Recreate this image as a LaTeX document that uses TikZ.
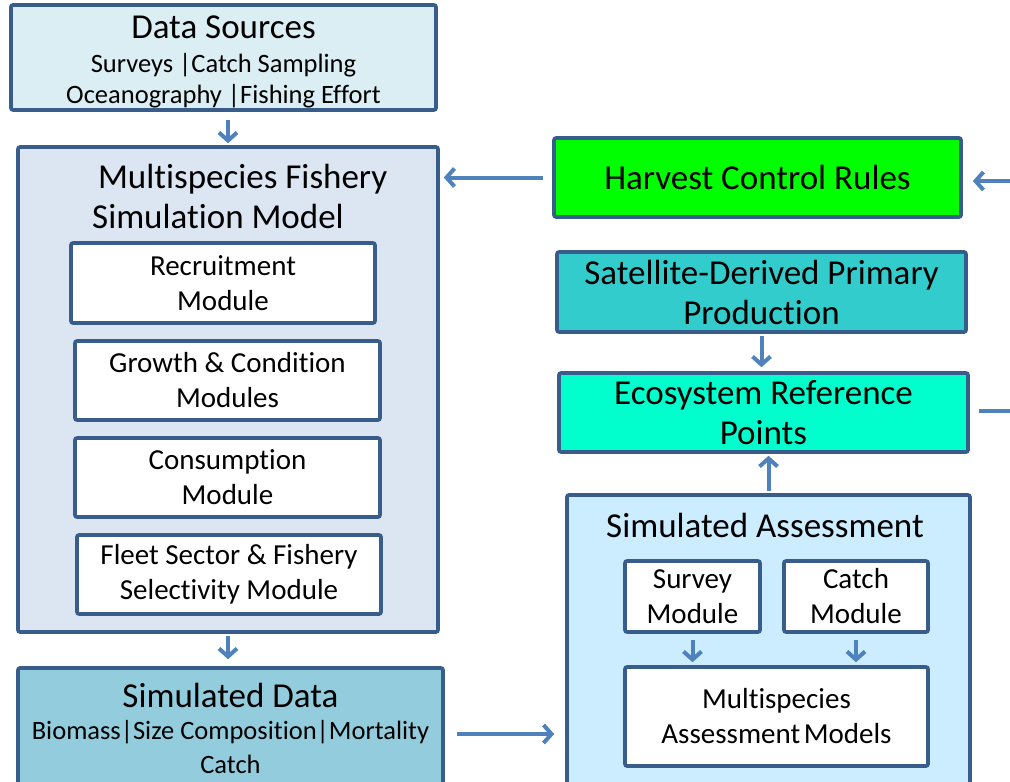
\documentclass[tikz,border=0pt]{standalone}
\usepackage{fontspec}
\setmainfont{Carlito}[Ligatures=NoCommon]
\usetikzlibrary{arrows.meta}

\definecolor{boxBorder}{HTML}{385D8A}
\definecolor{flowBlue}{HTML}{4F81BD}
\definecolor{sourceFill}{HTML}{DAEEF3}
\definecolor{modelFill}{HTML}{DCE6F2}
\definecolor{dataFill}{HTML}{93CDDD}
\definecolor{ruleFill}{HTML}{00FF00}
\definecolor{satFill}{HTML}{33CCCC}
\definecolor{refFill}{HTML}{00FFCC}
\definecolor{assessFill}{HTML}{CCECFF}

\begin{document}
\begin{tikzpicture}[%
    x=1pt, y=-1pt,
    box/.style={%
        draw=boxBorder,
        line width=3.6pt,
        rectangle,
        rounded corners=2pt,
        inner sep=0pt,
        align=center
    },
    module/.style={%
        box,
        fill=white,
        font=\fontsize{29}{35}\selectfont
    },
    banner/.style={%
        box,
        font=\fontsize{35}{40}\selectfont
    },
    title/.style={%
        font=\fontsize{35}{40}\selectfont,
        inner sep=0pt
    },
    subtitle/.style={%
        font=\fontsize{26.5}{30}\selectfont,
        inner sep=0pt
    },
    flow/.style={%
        draw=flowBlue,
        line width=4pt,
        -{Straight Barb[length=8pt,width=18pt]}
    }
]
\useasboundingbox (0,0) rectangle (1010,782);
\clip (0,0) rectangle (1010,782);

% Data sources
    \node[box, fill=sourceFill, minimum width=425, minimum height=105] (dataSources) at (223.5,57.5) {};
    \node[title] (dataSourcesTitle) at (223.5,27) {Data Sources};
    \node[subtitle] (dataSourcesA) at (223.5,65) {Surveys |Catch Sampling};
    \node[subtitle] (dataSourcesB) at (223.5,96) {Oceanography |Fishing Effort};

% Multispecies fishery simulation model
    \node[box, fill=modelFill, minimum width=420, minimum height=485] (simModel) at (228,389.5) {};
    \node[title, align=left, anchor=west] (simModelTitle) at (92,196) {\,Multispecies Fishery\\Simulation Model};
    \node[module, minimum width=304, minimum height=80] (recruitment) at (223,283) {Recruitment\\Module};
    \node[module, minimum width=305, minimum height=79] (growth) at (227.5,380.5) {Growth \& Condition\\Modules};
    \node[module, minimum width=305, minimum height=79] (consumption) at (227.5,477.5) {Consumption\\Module};
    \node[module, minimum width=304, minimum height=79] (fleet) at (229,574.5) {Fleet Sector \& Fishery\\Selectivity Module};

% Simulated data
    \node[box, fill=dataFill, minimum width=425, minimum height=132] (simData) at (230.5,734) {};
    \node[title] (simDataTitle) at (230.5,695) {Simulated Data};
    \node[subtitle] (simDataA) at (230.5,732) {Biomass|Size Composition|Mortality};
    \node[subtitle] (simDataB) at (230.5,764) {Catch};

% Right column
    \node[banner, fill=ruleFill, minimum width=407, minimum height=79] (hcr) at (757.5,177.5) {Harvest Control Rules};
    \node[banner, fill=satFill, minimum width=409, minimum height=80] (satellite) at (761.5,292) {Satellite-Derived Primary\\Production};
    \node[banner, fill=refFill, minimum width=409, minimum height=79] (erp) at (763.5,412.5) {Ecosystem Reference\\Points};

% Simulated assessment
    \node[box, fill=assessFill, minimum width=403, minimum height=305] (simAssess) at (768.5,647.5) {};
    \node[title] (simAssessTitle) at (765,525) {Simulated Assessment};
    \node[module, minimum width=135, minimum height=71] (survey) at (692.5,596.5) {Survey\\Module};
    \node[module, minimum width=144, minimum height=71] (catch) at (856,596.5) {Catch\\Module};
    \node[module, minimum width=303, minimum height=99] (assessModels) at (776.5,716.5) {Multispecies\\Assessment\hspace{-3pt} Models};

% Free ends at the right border
    \coordinate (hcrIn) at (1015,181);
    \coordinate (erpOut) at (1015,411);

% Arrows
\draw[flow, shorten <=8pt, shorten >=2pt] (dataSources.south -| simModel.north) -- (simModel.north);
\draw[flow, shorten <=2pt, shorten >=7pt] (simModel.south) -- (simModel.south |- simData.north);

\draw[flow, shorten <=9pt, shorten >=4pt] (hcr.west) -- (hcr.west -| simModel.east);
\draw[flow, shorten >=10pt] (hcrIn) -- (hcrIn -| hcr.east);

\draw[flow, shorten <=2pt, shorten >=4pt] (satellite.south) -- (satellite.south |- erp.north);
\draw[flow, shorten <=2pt, shorten >=2pt] (simAssess.north) -- (simAssess.north |- erp.south);
\draw[draw=flowBlue, line width=4pt, shorten <=9pt] (erpOut -| erp.east) -- (erpOut);

\draw[flow, shorten <=12pt, shorten >=11pt] (simData.east) -- (simData.east -| simAssess.west);

\draw[flow, shorten <=6pt, shorten >=3pt] (survey.south) -- (survey.south |- assessModels.north);
\draw[flow, shorten <=6pt, shorten >=3pt] (catch.south) -- (catch.south |- assessModels.north);

\end{tikzpicture}
\end{document}
